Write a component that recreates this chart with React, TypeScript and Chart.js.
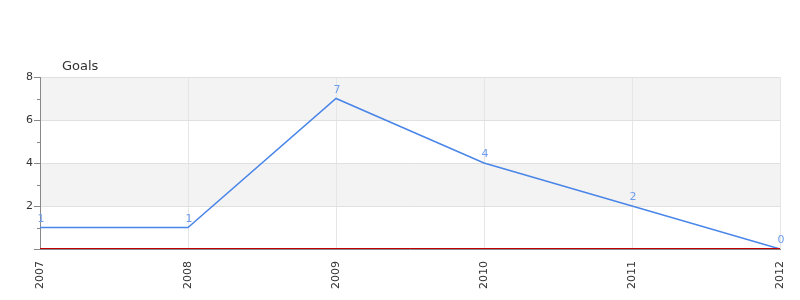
import React, { useEffect, useRef } from "react";
import { Chart, registerables } from "chart.js";

Chart.register(...registerables);

const categories = ["2007", "2008", "2009", "2010", "2011", "2012"];
const goals = [1, 1, 7, 4, 2, 0];
const yMin = 0;
const yMax = 8;
const bandRanges: [number, number][] = [
  [2, 4],
  [6, 8],
];
const titleText = "Goals";

const FONT = "'DejaVu Sans', Verdana, sans-serif";

const decorPlugin = {
  id: "decor",
  beforeDraw(chart: any) {
    const { ctx, chartArea } = chart;
    const y = chart.scales.y;
    ctx.save();
    ctx.fillStyle = "#f3f3f3";
    for (const [a, b] of bandRanges) {
      const top = y.getPixelForValue(b);
      const bot = y.getPixelForValue(a);
      ctx.fillRect(chartArea.left, top, chartArea.right - chartArea.left, bot - top);
    }
    ctx.restore();
  },
  afterDraw(chart: any) {
    const { ctx, chartArea } = chart;
    const y = chart.scales.y;
    const x = chart.scales.x;
    ctx.save();
    // y tick marks
    ctx.strokeStyle = "#888";
    ctx.lineWidth = 1;
    for (let v = yMin; v <= yMax; v++) {
      const py = Math.round(y.getPixelForValue(v)) + 0.5;
      const len = v % 2 === 0 ? 6 : 3;
      ctx.beginPath();
      ctx.moveTo(chartArea.left - len, py);
      ctx.lineTo(chartArea.left, py);
      ctx.stroke();
    }
    // red zero line
    const pz = Math.round(y.getPixelForValue(0)) - 0.5;
    ctx.strokeStyle = "#c00000";
    ctx.beginPath();
    ctx.moveTo(chartArea.left, pz);
    ctx.lineTo(chartArea.right, pz);
    ctx.stroke();
    // data labels
    ctx.fillStyle = "#6d9eeb";
    ctx.font = `11px ${FONT}`;
    ctx.textAlign = "center";
    ctx.textBaseline = "bottom";
    goals.forEach((g, i) => {
      const px = x.getPixelForValue(i);
      const py = y.getPixelForValue(g);
      ctx.fillText(String(g), px + 1, py - 3);
    });
    // title
    ctx.fillStyle = "#333";
    ctx.font = `13px ${FONT}`;
    ctx.textAlign = "left";
    ctx.textBaseline = "middle";
    ctx.fillText(titleText, 62, 67);
    ctx.restore();
  },
};

export default function App() {
  const ref = useRef<HTMLCanvasElement | null>(null);
  useEffect(() => {
    document.body.style.margin = "0";
    const canvas = ref.current!;
    const chart = new Chart(canvas, {
      type: "line",
      data: {
        labels: categories,
        datasets: [
          {
            label: titleText,
            data: goals,
            borderColor: "#4a86e8",
            borderWidth: 1.5,
            pointRadius: 0,
            tension: 0,
            fill: false,
          },
        ],
      },
      options: {
        animation: false,
        responsive: false,
        maintainAspectRatio: false,
        layout: { padding: { top: 77, right: 20, left: 0, bottom: 0 } },
        plugins: {
          legend: { display: false },
          title: { display: false },
          tooltip: { enabled: false },
        },
        scales: {
          x: {
            type: "category",
            offset: false,
            grid: { color: "#e6e6e6", drawTicks: false },
            border: { color: "#888" },
            ticks: {
              minRotation: 90,
              maxRotation: 90,
              padding: 12,
              color: "#333",
              font: { family: FONT, size: 11 },
              autoSkip: false,
            },
            afterFit(scale: any) {
              scale.height = 51;
              scale.paddingLeft = 0;
              scale.paddingRight = 0;
            },
          },
          y: {
            min: yMin,
            max: yMax,
            grid: {
              drawTicks: false,
              color: (c: any) =>
                c.tick && c.tick.value % 2 === 0 && c.tick.value !== 0 ? "#e0e0e0" : "rgba(0,0,0,0)",
            },
            border: { color: "#888" },
            ticks: {
              stepSize: 1,
              padding: 7,
              color: "#333",
              font: { family: FONT, size: 11 },
              callback: (v: any) => (v % 2 === 0 && v !== 0 ? String(v) : ""),
            },
            afterFit(scale: any) {
              scale.width = 40;
              scale.paddingTop = 0;
              scale.paddingBottom = 0;
            },
          },
        },
      },
      plugins: [decorPlugin],
    });
    return () => chart.destroy();
  }, []);
  return <canvas ref={ref} width={800} height={300} style={{ display: "block" }} />;
}
